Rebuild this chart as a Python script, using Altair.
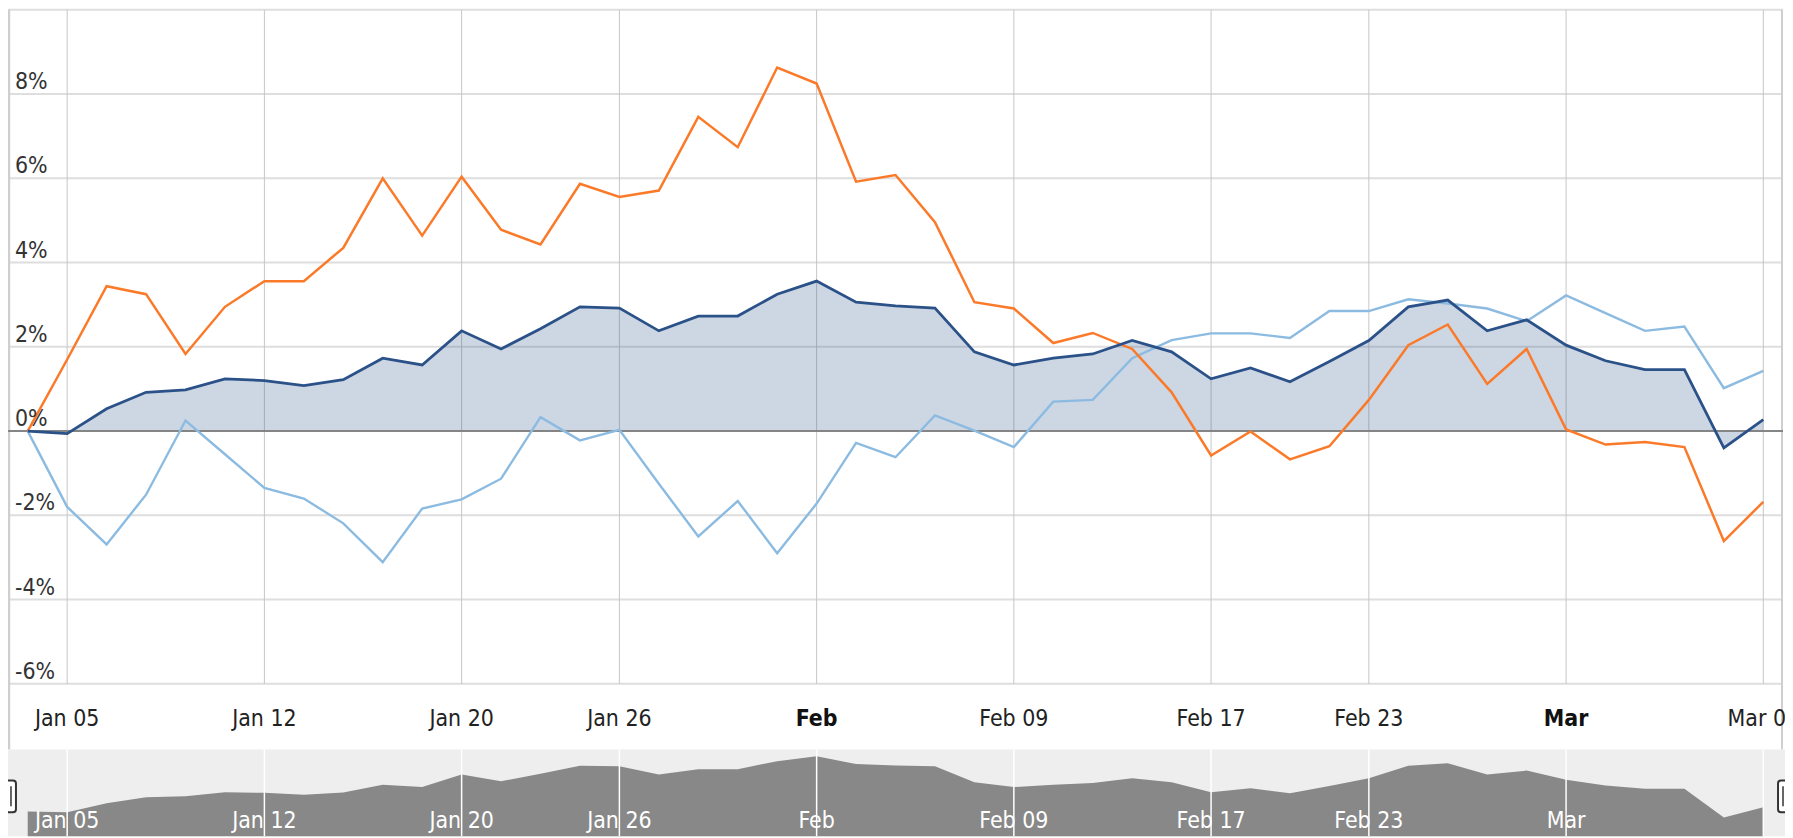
import altair as alt
import pandas as pd

# ---------------- data ----------------
dates = [
    "2015-01-02", "2015-01-05", "2015-01-06", "2015-01-07", "2015-01-08", "2015-01-09",
    "2015-01-12", "2015-01-13", "2015-01-14", "2015-01-15", "2015-01-16",
    "2015-01-20", "2015-01-21", "2015-01-22", "2015-01-23",
    "2015-01-26", "2015-01-27", "2015-01-28", "2015-01-29", "2015-01-30",
    "2015-02-02", "2015-02-03", "2015-02-04", "2015-02-05", "2015-02-06",
    "2015-02-09", "2015-02-10", "2015-02-11", "2015-02-12", "2015-02-13",
    "2015-02-17", "2015-02-18", "2015-02-19", "2015-02-20",
    "2015-02-23", "2015-02-24", "2015-02-25", "2015-02-26", "2015-02-27",
    "2015-03-02", "2015-03-03", "2015-03-04", "2015-03-05", "2015-03-06",
    "2015-03-09",
]

navy_pct = [
    0.00, -0.06, 0.53, 0.92, 0.98, 1.24, 1.20, 1.08, 1.22, 1.73, 1.57,
    2.38, 1.95, 2.43, 2.95, 2.92, 2.38, 2.73, 2.73, 3.25, 3.56,
    3.06, 2.97, 2.92, 1.88, 1.57, 1.73, 1.83, 2.15, 1.88, 1.24,
    1.50, 1.17, 1.65, 2.15, 2.95, 3.11, 2.38, 2.64, 2.04, 1.67,
    1.46, 1.46, -0.40, 0.27,
]

light_pct = [
    0.00, -1.80, -2.69, -1.51, 0.25, -0.55, -1.35, -1.60, -2.19, -3.11, -1.84,
    -1.62, -1.13, 0.33, -0.22, 0.03, -1.25, -2.50, -1.66, -2.90, -1.72,
    -0.28, -0.62, 0.37, 0.01, -0.38, 0.70, 0.74, 1.73, 2.16, 2.32,
    2.32, 2.21, 2.85, 2.85, 3.13, 3.03, 2.91, 2.61, 3.22, 2.80,
    2.38, 2.48, 1.02, 1.43,
]

orange_pct = [
    0.00, 1.70, 3.44, 3.25, 1.83, 2.95, 3.56, 3.56, 4.35, 6.00, 4.64,
    6.04, 4.78, 4.43, 5.87, 5.56, 5.71, 7.46, 6.74, 8.63, 8.25,
    5.92, 6.08, 4.96, 3.06, 2.91, 2.09, 2.33, 1.95, 0.92, -0.58,
    -0.01, -0.67, -0.36, 0.74, 2.04, 2.53, 1.12, 1.95, 0.04, -0.32,
    -0.26, -0.38, -2.61, -1.68,
]

tick_dates = ["2015-01-05", "2015-01-12", "2015-01-20", "2015-01-26", "2015-02-02",
              "2015-02-09", "2015-02-17", "2015-02-23", "2015-03-02", "2015-03-09"]
tick_labels = ["Jan 05", "Jan 12", "Jan 20", "Jan 26", "Feb",
               "Feb 09", "Feb 17", "Feb 23", "Mar", "Mar 09"]
bold_labels = ["Feb", "Mar"]
nav_tick_labels = ["Jan 05", "Jan 12", "Jan 20", "Jan 26", "Feb",
                   "Feb 09", "Feb 17", "Feb 23", "Mar"]

y_ticks = [-6, -4, -2, 0, 2, 4, 6, 8, 10]

# ---------------- styling ----------------
FONT = "DejaVu Sans Condensed, Liberation Sans, sans-serif"
FS = 23
NAVY = "#2b5189"
LIGHT = "#8cbbe1"
ORANGE = "#fb7a29"

W, H = 1785, 830
MAIN_H = 677
NAV_TOP, NAV_BOT = 743, 830
NAV_MIN, NAV_MAX = -1.6, 4.0

# ---------------- frames ----------------
idx = list(range(len(dates)))
wide = pd.DataFrame({"idx": idx, "date": dates, "navy": navy_pct,
                     "light": light_pct, "orange": orange_pct})
tick_idx = [dates.index(d) for d in tick_dates]
ticks = pd.DataFrame({"idx": tick_idx, "label": tick_labels,
                      "bold": [l in bold_labels for l in tick_labels]})
nav_ticks = ticks[ticks["label"].isin(nav_tick_labels)]
zero_df = pd.DataFrame({"z": [0]})
ygrid_df = pd.DataFrame({"v": y_ticks})
ylab_df = pd.DataFrame({"v": y_ticks[:-1], "label": [f"{v}%" for v in y_ticks[:-1]]})
one = pd.DataFrame({"a": [0]})

xscale = alt.Scale(domain=[-0.5, 44.55], nice=False, zero=False)
yscale = alt.Scale(domain=[-6, 10], range=[MAIN_H, 0], nice=False, zero=False)
navscale = alt.Scale(domain=[NAV_MIN, NAV_MAX], range=[NAV_BOT, NAV_TOP], nice=False, zero=False)

X = alt.X("idx:Q", scale=xscale, axis=None)

def Ymain(field):
    return alt.Y(field, scale=yscale, axis=None)

# ---------------- main panel ----------------
hgrid = alt.Chart(ygrid_df).mark_rule(color="#dedede", strokeWidth=2).encode(
    y=Ymain("v:Q"), x=alt.value(0), x2=alt.value(1783))

vgrid = alt.Chart(ticks).mark_rule(color="#c6c6c6", strokeWidth=1).encode(
    x=X, y=alt.value(0), y2=alt.value(MAIN_H))

left_border = alt.Chart(one).mark_rule(color="#cfcfcf", strokeWidth=2.5).encode(
    x=alt.value(1), y=alt.value(0), y2=alt.value(NAV_TOP))
right_border = alt.Chart(one).mark_rule(color="#cfcfcf", strokeWidth=2).encode(
    x=alt.value(1782), y=alt.value(0), y2=alt.value(NAV_TOP))

ylabels = alt.Chart(ylab_df).mark_text(font=FONT, fontSize=FS, color="#333333",
                                       align="left", baseline="alphabetic", dx=7, dy=-5).encode(
    y=Ymain("v:Q"), x=alt.value(0), text="label:N")

xlabels = alt.Chart(ticks).transform_filter("!datum.bold").mark_text(
    font=FONT, fontSize=FS, color="#222222", baseline="middle", align="center").encode(
    x=X, y=alt.value(712), text="label:N")
xlabels_bold = alt.Chart(ticks).transform_filter("datum.bold").mark_text(
    font=FONT, fontSize=FS, color="#111111", baseline="middle", align="center",
    fontWeight="bold").encode(
    x=X, y=alt.value(712), text="label:N")

fill = alt.Chart(wide).mark_area(color=NAVY, opacity=0.236).encode(
    x=X, y=Ymain("navy:Q"), y2=alt.datum(0))

zero_line = alt.Chart(zero_df).mark_rule(color="#858585", strokeWidth=2).encode(
    y=Ymain("z:Q"), x=alt.value(0), x2=alt.value(1783))

def line(field, color, width):
    return alt.Chart(wide).mark_line(color=color, strokeWidth=width, strokeJoin="miter").encode(
        x=X, y=Ymain(f"{field}:Q"))

# ---------------- navigator ----------------
nav_bg = alt.Chart(one).mark_rect(color="#eeeeee").encode(
    x=alt.value(0), x2=alt.value(W), y=alt.value(NAV_TOP), y2=alt.value(NAV_BOT))
nav_area = alt.Chart(wide).mark_area(color="#888888").encode(
    x=X, y=alt.Y("navy:Q", scale=navscale, axis=None), y2=alt.datum(NAV_MIN))
nav_rules = alt.Chart(ticks).mark_rule(color="#ffffff", strokeWidth=1.5).encode(
    x=X, y=alt.value(NAV_TOP), y2=alt.value(NAV_BOT))
nav_text = alt.Chart(nav_ticks).mark_text(font=FONT, fontSize=FS, color="#ffffff",
                                          baseline="middle", align="center").encode(
    x=X, y=alt.value(815), text="label:N")

def handle(x0, x1, xline):
    box = alt.Chart(one).mark_rect(fill="#ffffff", stroke="#333333", strokeWidth=2,
                                   cornerRadius=3).encode(
        x=alt.value(x0), x2=alt.value(x1), y=alt.value(774), y2=alt.value(806))
    bar = alt.Chart(one).mark_rule(color="#333333", strokeWidth=1.5).encode(
        x=alt.value(xline), y=alt.value(780), y2=alt.value(800))
    return [box, bar]

layers = [hgrid, vgrid, left_border, right_border, fill, zero_line,
          line("light", LIGHT, 2.4), line("orange", ORANGE, 2.5), line("navy", NAVY, 2.8),
          ylabels, xlabels, xlabels_bold,
          nav_bg, nav_area, nav_rules, nav_text] + handle(-2, 8, 3) + handle(1778, 1792, 1783)

chart = alt.layer(*layers).resolve_scale(y="independent").properties(
    width=W, height=H, autosize=alt.AutoSizeParams(type="none"), padding=0,
    background="#ffffff"
).configure_view(stroke="transparent")

chart.save("out.html", embed_options={"renderer": "svg", "actions": False})
